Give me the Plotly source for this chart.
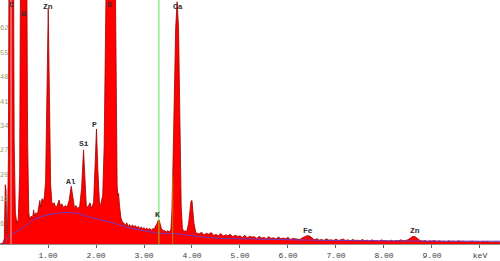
import plotly.graph_objects as go

# ---- spectrum data (energy keV, counts) ----
LOW_E = [0.00, 0.06, 0.09, 0.11, 0.125, 0.14, 0.155, 0.175, 0.19, 0.28, 0.295, 0.32, 0.35, 0.38, 0.41,
         0.43, 0.555, 0.575, 0.60, 0.62, 0.65, 0.68, 0.70, 0.72, 0.75, 0.78, 0.81, 0.83, 0.85, 0.875,
         0.90, 0.925, 0.95, 0.975, 1.005, 1.03, 1.055, 1.08, 1.10, 1.13, 1.16, 1.19, 1.23, 1.26, 1.29,
         1.32, 1.36, 1.40, 1.44, 1.485, 1.52, 1.55, 1.58, 1.62, 1.66, 1.70, 1.74, 1.775, 1.80, 1.84,
         1.875, 1.91, 1.95, 1.985, 2.01, 2.04, 2.075, 2.10, 2.14, 2.17, 2.20, 2.225, 2.395, 2.42, 2.44,
         2.455, 2.47, 2.49, 2.52, 2.55]
LOW_C = [0, 0.3, 1.5, 17, 15.5, 3, 3.5, 25, 90, 90, 30, 9, 6, 7, 20,
         90, 90, 30, 9, 7, 8, 7.5, 9.8, 8, 9, 8.5, 11, 12.5, 10.5, 13,
         12, 13.5, 18, 40, 67.5, 42, 17, 12, 11.5, 11.8, 10.5, 11, 12.6, 11, 11.5,
         10.5, 11, 10.6, 12.5, 16.6, 12.5, 10.5, 11, 10.2, 10.8, 16, 27, 17, 10.5, 10.8,
         11.8, 10.2, 12, 24, 33, 21, 11, 11.5, 14, 28, 55, 90, 90, 40, 17,
         14, 14.5, 11, 7.5, 6.3]

MID_E = [2.58, 2.61, 2.64, 2.67, 2.70, 2.73, 2.76, 2.79, 2.82, 2.85, 2.88, 2.91, 2.94, 2.97, 3.00,
         3.03, 3.06, 3.09, 3.12, 3.15, 3.18, 3.21, 3.24, 3.27, 3.30, 3.32, 3.36, 3.40, 3.43, 3.46,
         3.49, 3.52, 3.56, 3.58, 3.60, 3.625, 3.66, 3.69, 3.72, 3.75, 3.775, 3.80, 3.83, 3.86, 3.89,
         3.93, 3.98, 4.00, 4.04, 4.08, 4.12]
MID_C = [6.0, 5.2, 6.1, 5.0, 5.6, 4.8, 5.5, 4.9, 5.3, 4.6, 5.1, 4.4, 4.9, 4.3, 4.7,
         4.2, 4.6, 4.0, 4.5, 3.9, 4.4, 4.3, 5.0, 5.8, 6.9, 6.7, 4.5, 3.8, 3.9, 3.4,
         3.8, 3.5, 4.0, 9.0, 20.0, 34, 62, 69.5, 62, 34, 11.0, 4.5, 3.6, 3.8, 3.5,
         6.0, 12.3, 12.5, 6.0, 3.2, 3.0]

HIGH_E = [4.15, 4.20, 4.25, 4.30, 4.35, 4.40, 4.45, 4.50, 4.55, 4.60, 4.65, 4.70, 4.75, 4.80, 4.85,
          4.90, 4.95, 5.00, 5.05, 5.10, 5.15, 5.20, 5.25, 5.30, 5.35, 5.40, 5.45, 5.50, 5.55, 5.60,
          5.65, 5.70, 5.75, 5.80, 5.85, 5.90, 5.95, 6.00, 6.05, 6.10, 6.15, 6.20, 6.25, 6.30, 6.35,
          6.40, 6.45, 6.50, 6.55, 6.60, 6.65, 6.70, 6.75, 6.80, 6.85, 6.90, 6.95, 7.00, 7.05, 7.10,
          7.15, 7.20, 7.25, 7.30, 7.35, 7.40, 7.45, 7.50, 7.55, 7.60, 7.65, 7.70, 7.75, 7.80, 7.85,
          7.90, 7.95, 8.00, 8.05, 8.10, 8.15, 8.20, 8.25, 8.30, 8.35, 8.40, 8.45, 8.50, 8.55, 8.60,
          8.65, 8.70, 8.75, 8.80, 8.85, 8.90, 8.95, 9.00, 9.05, 9.10, 9.15, 9.20, 9.25, 9.30, 9.35,
          9.40, 9.45, 9.50, 9.55, 9.60, 9.65, 9.70, 9.75, 9.80, 9.85, 9.90, 9.95, 10.00, 10.05, 10.10,
          10.15, 10.20, 10.25, 10.30, 10.35, 10.42]
HIGH_C = [2.9, 3.4, 2.6, 3.1, 2.8, 3.3, 2.5, 2.7, 2.4, 3.0, 2.3, 2.6, 2.4, 2.8, 2.1,
          2.5, 2.2, 2.3, 1.9, 2.5, 1.8, 2.2, 2.0, 2.1, 1.6, 2.2, 1.7, 1.9, 1.5, 2.1,
          1.6, 1.8, 1.4, 2.0, 1.5, 1.7, 1.5, 1.9, 1.3, 1.6, 1.5, 1.4, 1.3, 1.8, 2.2,
          2.4, 2.3, 1.6, 1.2, 1.5, 1.1, 1.3, 1.0, 1.5, 1.1, 1.2, 1.0, 1.4, 1.0, 1.2,
          1.4, 1.0, 1.2, 0.9, 1.3, 1.0, 1.1, 0.9, 1.3, 0.9, 1.1, 0.8, 1.2, 0.9, 1.0,
          0.8, 1.2, 0.9, 1.0, 0.8, 1.1, 0.8, 1.0, 0.9, 1.2, 0.9, 1.0, 1.2, 1.7, 2.2,
          2.1, 1.4, 1.0, 0.8, 1.0, 0.7, 0.9, 0.8, 1.0, 0.7, 0.9, 0.7, 0.8, 0.6, 0.9,
          0.7, 0.8, 0.6, 0.9, 0.7, 0.8, 0.6, 0.7, 0.6, 0.8, 0.6, 0.7, 0.5, 0.7, 0.6,
          0.7, 0.5, 0.6, 0.5, 0.6, 0.5]

# background (continuum) curve
BG_E = [0.08, 0.21, 0.42, 0.69, 0.98, 1.25, 1.56, 1.875, 2.29, 2.71, 3.33, 3.69, 4.38, 5.42, 6.5, 8.0, 10.42]
BG_C = [0.0, 2.6, 4.0, 6.9, 8.3, 8.9, 8.9, 7.7, 6.3, 4.6, 3.1, 2.9, 1.8, 1.4, 1.1, 0.9, 0.8]

# element labels
LBL_TEXT = ["C", "O", "Zn", "S", "Ca", "Al", "Si", "P", "K", "Fe", "Zn"]
LBL_E = [0.23, 0.48, 1.00, 2.29, 3.71, 1.48, 1.75, 1.96, 3.29, 6.42, 8.65]
LBL_C = [68.8, 66.0, 68.2, 68.6, 68.2, 18.0, 28.7, 34.4, 8.6, 4.0, 4.0]

X_TICKS = [1, 2, 3, 4, 5, 6, 7, 8, 9, 10]
X_TEXT = ["1.00", "2.00", "3.00", "4.00", "5.00", "6.00", "7.00", "8.00", "9.00", "keV"]
Y_TICKS = [6, 13, 20, 27, 34, 41, 48, 55, 62, 69]
Y_TEXT = ["6", "13", "20", "27", "34", "41", "48", "55", "62", "Count"]

energy = LOW_E + MID_E + HIGH_E
counts = LOW_C + MID_C + HIGH_C

fig = go.Figure()
fig.add_trace(go.Scatter(x=energy, y=counts, mode="lines", fill="tozeroy",
                         fillcolor="#ff0000", line=dict(color="#a00000", width=0.8),
                         hoverinfo="skip"))
fig.add_trace(go.Scatter(x=BG_E, y=BG_C, mode="lines", line=dict(color="#6a3cc8", width=1, shape="spline"),
                         hoverinfo="skip"))

# marker lines
fig.add_shape(type="line", x0=0.23, x1=0.23, y0=0, y1=70, line=dict(color="#e8b8b8", width=1))
fig.add_shape(type="line", x0=3.31, x1=3.31, y0=6.9, y1=70, line=dict(color="#8cf08c", width=1.5))
fig.add_shape(type="line", x0=3.31, x1=3.31, y0=0, y1=6.9, line=dict(color="#c08000", width=1.5))
fig.add_shape(type="line", x0=3.598, x1=3.598, y0=0, y1=19.5, line=dict(color="#c08000", width=1))

for t, e, c in zip(LBL_TEXT, LBL_E, LBL_C):
    fig.add_annotation(x=e, y=c, text="<b>" + t + "</b>", showarrow=False,
                       font=dict(family="Liberation Mono", size=8, color="#303030"),
                       xanchor="center", yanchor="middle")

fig.update_layout(
    width=500, height=261,
    margin=dict(l=0, r=0, t=0, b=17),
    paper_bgcolor="white", plot_bgcolor="white",
    showlegend=False,
    xaxis=dict(range=[0, 10.417], tickvals=X_TICKS, ticktext=X_TEXT, showgrid=False, zeroline=False,
               showline=True, linecolor="#909090", linewidth=1, ticks="outside", ticklen=3,
               tickcolor="#606060", tickfont=dict(family="Liberation Mono", size=8, color="#404040")),
    yaxis=dict(range=[0, 70], tickvals=Y_TICKS, ticktext=Y_TEXT, showgrid=False, zeroline=False,
               showline=False, ticks="", ticklabelposition="inside", ticklabelstandoff=-3,
               layer="above traces",
               tickfont=dict(family="Liberation Mono", size=7, color="#9c9c6c")),
)

fig.write_html("out.html")
